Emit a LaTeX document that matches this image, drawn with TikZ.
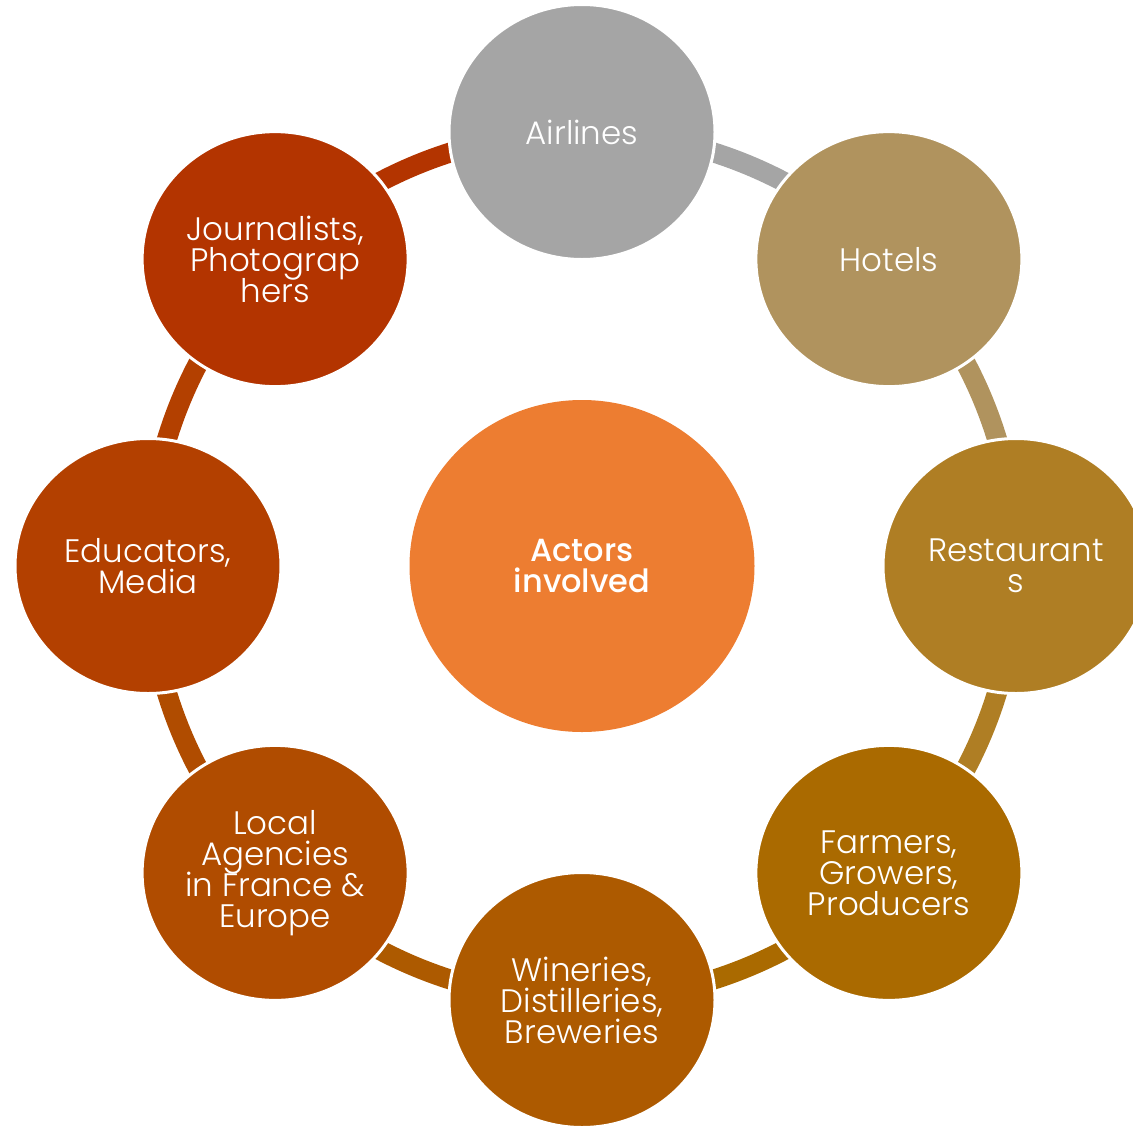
\documentclass[tikz,border=0pt]{standalone}
\usepackage{fontspec}
\setmainfont{Poppins}[UprightFont=* Light, BoldFont=* Medium]
\usetikzlibrary{shapes.geometric}
\definecolor{cAir}{HTML}{A5A5A5}
\definecolor{cHot}{HTML}{B0935E}
\definecolor{cRes}{HTML}{AF7E24}
\definecolor{cFar}{HTML}{AA6A00}
\definecolor{cWin}{HTML}{AD5A00}
\definecolor{cLoc}{HTML}{B04C00}
\definecolor{cEdu}{HTML}{B34000}
\definecolor{cJou}{HTML}{B33400}
\definecolor{cCen}{HTML}{ED7D31}
\newcommand\mytightlines{\lineskiplimit=-100pt\relax\lineskip=0pt\relax}
\begin{document}
\begin{tikzpicture}[x=1pt,y=-1pt,
  outer/.style={ellipse, draw=white, line width=3pt, minimum width=266pt, minimum height=255pt,
    inner sep=0pt, text=white, align=center,
    font=\fontsize{32.5}{31}\selectfont\mytightlines},
  hub/.style={ellipse, minimum width=345pt, minimum height=332pt, inner sep=0pt,
    fill=cCen, text=white, align=center,
    font=\bfseries\fontsize{32}{31}\selectfont\mytightlines},
  ring/.style={line width=20pt}]
\useasboundingbox (0,0) rectangle (1133,1125);
\clip (0,0) rectangle (1133,1125);
\coordinate (C) at (582,566);
% positions
\coordinate (pAir) at ([shift={(-90:434)}]C);
\coordinate (pHot) at ([shift={(-45:434)}]C);
\coordinate (pRes) at ([shift={(0:434)}]C);
\coordinate (pFar) at ([shift={(45:434)}]C);
\coordinate (pWin) at ([shift={(90:434)}]C);
\coordinate (pLoc) at ([shift={(135:434)}]C);
\coordinate (pEdu) at ([shift={(180:434)}]C);
\coordinate (pJou) at ([shift={(225:434)}]C);
% ring arcs
\draw[ring, cAir] (pAir) arc[start angle=-90, end angle=-45, radius=434];
\draw[ring, cHot] (pHot) arc[start angle=-45, end angle=0, radius=434];
\draw[ring, cRes] (pRes) arc[start angle=0, end angle=45, radius=434];
\draw[ring, cFar] (pFar) arc[start angle=45, end angle=90, radius=434];
\draw[ring, cWin] (pWin) arc[start angle=90, end angle=135, radius=434];
\draw[ring, cLoc] (pLoc) arc[start angle=135, end angle=180, radius=434];
\draw[ring, cEdu] (pEdu) arc[start angle=180, end angle=225, radius=434];
\draw[ring, cJou] (pJou) arc[start angle=225, end angle=270, radius=434];
% nodes
\node[hub] (cen) at (C) {Actors\\involved};
\node[outer, fill=cAir] (air) at (pAir) {Airlines};
\node[outer, fill=cHot] (hot) at (pHot) {Hotels};
\node[outer, fill=cRes] (res) at (pRes) {Restaurant\\s};
\node[outer, fill=cFar] (far) at (pFar) {Farmers,\\Growers,\\Producers};
\node[outer, fill=cWin] (win) at (pWin) {Wineries,\\Distilleries,\\Breweries};
\node[outer, fill=cLoc] (loc) at (pLoc) {Local\\Agencies\\in France \&\\Europe};
\node[outer, fill=cEdu] (edu) at (pEdu) {Educators,\\Media};
\node[outer, fill=cJou] (jou) at (pJou) {Journalists,\\Photograp\\hers};
\end{tikzpicture}
\end{document}
